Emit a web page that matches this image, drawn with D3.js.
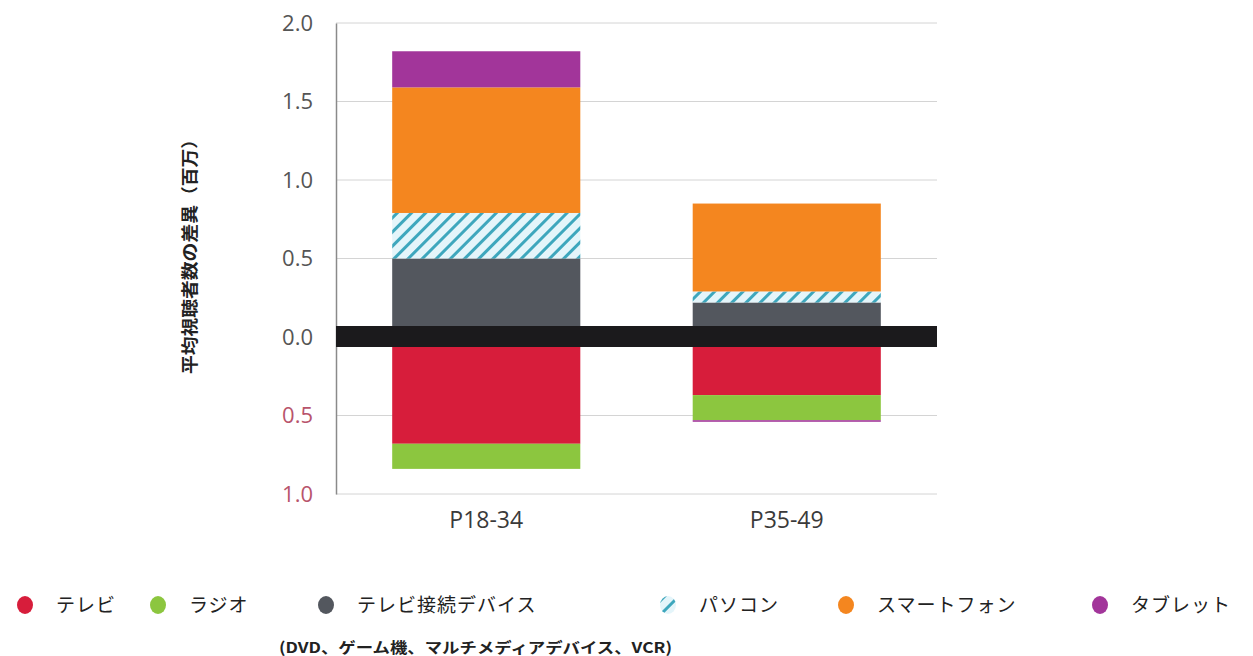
<!DOCTYPE html>
<html>
<head>
<meta charset="utf-8">
<style type="text/css">
body { margin: 0; background: #fff; }
.tick text { font-family: "Open Sans", "Noto Sans", sans-serif; }
</style>
<script src="https://d3js.org/d3.v7.min.js"></script>
</head>
<body>
<script type="text/javascript">
var width = 1253;
var height = 656;

var categories = ["P18-34", "P35-49"];
var seriesNames = ["テレビ", "ラジオ", "テレビ接続デバイス", "パソコン", "スマートフォン", "タブレット"];
var seriesKeys = ["tv", "radio", "device", "pc", "phone", "tablet"];
var tv     = [-0.68, -0.37];
var radio  = [-0.16, -0.16];
var device = [0.50, 0.22];
var pc     = [0.29, 0.07];
var phone  = [0.80, 0.56];
var tablet = [0.23, -0.01];
var yTicks = [-1.0, -0.5, 0, 0.5, 1.0, 1.5, 2.0];
var colors = ["#d71d3b", "#8cc63f", "#53575e", "url(#hatch)", "#f4861f", "#a2359a"];

var table = categories.map(function(c, i) {
	return { cat: c, tv: tv[i], radio: radio[i], device: device[i], pc: pc[i], phone: phone[i], tablet: tablet[i] };
});

var svg = d3.select("body").append("svg").attr("width", width).attr("height", height);

var defs = svg.append("defs");
var pat = defs.append("pattern").attr("id", "hatch").attr("patternUnits", "userSpaceOnUse")
	.attr("width", 10).attr("height", 10).attr("patternTransform", "rotate(45)");
pat.append("rect").attr("width", 10).attr("height", 10).attr("fill", "#e4f5fa");
pat.append("rect").attr("x", 0).attr("y", 0).attr("width", 3).attr("height", 10).attr("fill", "#3ea7bd");

var x = d3.scaleBand().domain(categories).range([336, 937]).paddingInner(0.374).paddingOuter(0.187);
var y = d3.scaleLinear().domain([-1, 2]).range([494, 23]);

// grid
svg.append("g").selectAll("line").data(yTicks).enter().append("line")
	.attr("x1", 336).attr("x2", 937)
	.attr("y1", function(d) { return y(d); }).attr("y2", function(d) { return y(d); })
	.attr("stroke", "#d4d4d4").attr("stroke-width", 1);

var stack = d3.stack().keys(seriesKeys).offset(d3.stackOffsetDiverging)(table);

svg.append("g").selectAll("g").data(stack).enter().append("g")
	.attr("fill", function(d, i) { return colors[i]; })
	.selectAll("rect").data(function(d) { return d; }).enter().append("rect")
	.attr("x", function(d) { return x(d.data.cat); })
	.attr("width", x.bandwidth())
	.attr("y", function(d) { return y(d[1]); })
	.attr("height", function(d) { return Math.max(0, y(d[0]) - y(d[1])); });

// y axis
var yAxis = svg.append("g").attr("transform", "translate(336,0)")
	.call(d3.axisLeft(y).tickValues(yTicks).tickSize(0).tickPadding(23)
		.tickFormat(function(d) { return Math.abs(d).toFixed(1); }));
yAxis.select(".domain").attr("stroke", "#8a8a8a").attr("stroke-width", 1.5);
yAxis.selectAll("text").attr("font-size", 22)
	.attr("fill", function(d) { return d < 0 ? "#b8546c" : "#555"; });

// zero band
svg.append("rect").attr("x", 336).attr("width", 601)
	.attr("y", y(0) - 11).attr("height", 21).attr("fill", "#1b1a1c");

// x axis labels
var xAxis = svg.append("g").attr("transform", "translate(0,494)")
	.call(d3.axisBottom(x).tickSize(0).tickPadding(18));
xAxis.select(".domain").remove();
xAxis.selectAll("text").attr("font-size", 23).attr("fill", "#3a3a3a");

// y title
svg.append("text").attr("transform", "translate(196,252) rotate(-90)")
	.attr("text-anchor", "middle").attr("font-family", "Noto Sans CJK JP")
	.attr("font-size", 17).attr("font-weight", "bold").attr("fill", "#222")
	.attr("textLength", 244).attr("lengthAdjust", "spacingAndGlyphs")
	.text("平均視聴者数の差異（百万）");

// legend
var legX = [25, 158, 326, 668, 846, 1100];
var leg = svg.append("g").selectAll("g").data(seriesNames).enter().append("g")
	.attr("transform", function(d, i) { return "translate(" + legX[i] + ",605)"; });
leg.append("ellipse").attr("rx", 8).attr("ry", 9)
	.attr("fill", function(d, i) { return colors[i]; });
leg.append("text").attr("x", 31).attr("y", 7)
	.attr("font-family", "Noto Sans CJK JP").attr("font-size", 19).attr("fill", "#222")
	.attr("letter-spacing", 1)
	.text(function(d) { return d; });

svg.append("text").attr("x", 279).attr("y", 653)
	.attr("font-family", "Noto Sans CJK JP").attr("font-size", 15).attr("font-weight", "bold")
	.attr("fill", "#222").attr("textLength", 393).attr("lengthAdjust", "spacingAndGlyphs")
	.text("(DVD、ゲーム機、マルチメディアデバイス、VCR)");
</script>
</body>
</html>
